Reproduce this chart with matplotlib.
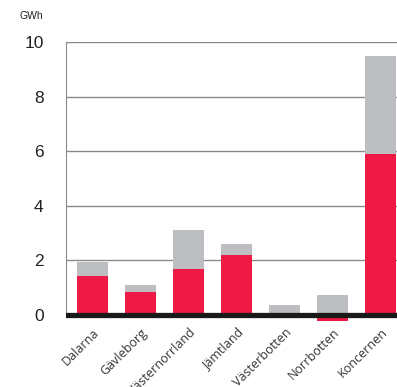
import numpy as np
import matplotlib
matplotlib.use('Agg')
import matplotlib.pyplot as plt

plt.rcParams['font.family'] = ['Liberation Sans', 'DejaVu Sans']

regions = ['Dalarna', 'Gävleborg', 'Västernorrland', 'Jämtland',
           'Västerbotten', 'Norrbotten', 'Koncernen']
red_part = [1.43, 0.84, 1.68, 2.2, 0.0, -0.22, 5.9]
gray_part = [0.51, 0.26, 1.42, 0.4, 0.37, 0.73, 3.59]
yticks = [0, 2, 4, 6, 8, 10]

RED = '#ee1a45'
GRAY = '#bcbec2'

fig = plt.figure(figsize=(3.97, 3.87), dpi=100)
ax = fig.add_axes([0.166, 0.1685, 0.834, 0.723])

x = np.arange(len(regions))
bottoms = np.maximum(red_part, 0)
ax.bar(x, red_part, width=0.65, color=RED, zorder=2)
ax.bar(x, gray_part, bottom=bottoms, width=0.65, color=GRAY, zorder=2)

# grid lines
for t in yticks[1:]:
    ax.axhline(t, color='#8a8a8a', lw=1.0, zorder=1)
ax.axhline(0, color='#1a1a1a', lw=3.8, zorder=3)

ax.set_xlim(-0.55, 6.34)
ax.set_ylim(-0.25, 10)
ax.set_yticks(yticks)
ax.set_yticklabels([str(t) for t in yticks], fontsize=12.5, color='#222222')
ax.tick_params(axis='y', length=0, pad=16)
ax.set_xticks(x)
ax.set_xticklabels(regions, rotation=45, ha='right', rotation_mode='anchor',
                   fontsize=9, color='#333333', family=['Open Sans', 'DejaVu Sans'])
ax.tick_params(axis='x', length=0, pad=3)

for s in ['top', 'right', 'bottom']:
    ax.spines[s].set_visible(False)
ax.spines['left'].set_color('#8a8a8a')
ax.spines['left'].set_bounds(0, 10)

fig.text(19 / 397, 1 - 16 / 387, 'GWh', fontsize=7.5, va='center', ha='left',
         color='#222222')

plt.savefig('out.png', dpi=100)
plt.close()
